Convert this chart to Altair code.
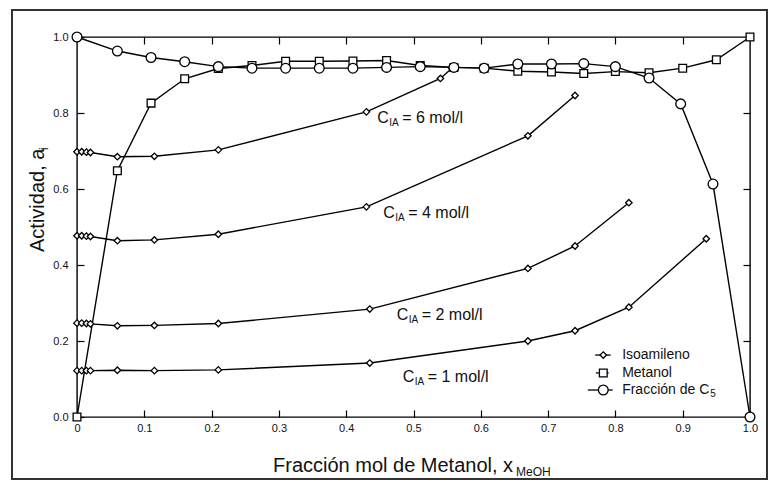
import altair as alt
import pandas as pd

# ---------------- data ----------------
# Isoamileno activity for each initial concentration C_IA (mol/l)
iso_x_6 = [0.0, 0.007, 0.014, 0.02, 0.06, 0.115, 0.21, 0.43, 0.54, 0.557]
iso_y_6 = [0.698, 0.698, 0.697, 0.696, 0.685, 0.686, 0.703, 0.803, 0.891, 0.918]
iso_x_4 = [0.0, 0.007, 0.014, 0.02, 0.06, 0.115, 0.21, 0.43, 0.67, 0.74]
iso_y_4 = [0.477, 0.477, 0.476, 0.475, 0.464, 0.466, 0.481, 0.553, 0.740, 0.846]
iso_x_2 = [0.0, 0.007, 0.014, 0.02, 0.06, 0.115, 0.21, 0.435, 0.67, 0.74, 0.82]
iso_y_2 = [0.247, 0.247, 0.246, 0.245, 0.240, 0.241, 0.246, 0.284, 0.391, 0.450, 0.564]
iso_x_1 = [0.0, 0.007, 0.014, 0.02, 0.06, 0.115, 0.21, 0.435, 0.67, 0.74, 0.82, 0.935]
iso_y_1 = [0.122, 0.122, 0.122, 0.122, 0.123, 0.122, 0.124, 0.142, 0.200, 0.227, 0.289, 0.469]

# Metanol activity
met_x = [0.0, 0.06, 0.11, 0.16, 0.21, 0.26, 0.31, 0.36, 0.41, 0.46, 0.51, 0.56,
         0.605, 0.655, 0.705, 0.753, 0.80, 0.85, 0.90, 0.95, 1.0]
met_y = [0.0, 0.648, 0.826, 0.890, 0.917, 0.925, 0.936, 0.936, 0.937, 0.938, 0.925, 0.920,
         0.918, 0.910, 0.908, 0.904, 0.909, 0.906, 0.918, 0.940, 1.0]

# Fraccion de C5
c5_x = [0.0, 0.06, 0.11, 0.16, 0.21, 0.26, 0.31, 0.36, 0.41, 0.46, 0.51, 0.56,
        0.605, 0.655, 0.705, 0.753, 0.80, 0.85, 0.897, 0.945, 1.0]
c5_y = [1.0, 0.963, 0.946, 0.935, 0.922, 0.918, 0.918, 0.918, 0.918, 0.920, 0.922, 0.920,
        0.918, 0.929, 0.929, 0.930, 0.922, 0.892, 0.824, 0.613, 0.0]

x_ticks = [0.0, 0.1, 0.2, 0.3, 0.4, 0.5, 0.6, 0.7, 0.8, 0.9, 1.0]
y_ticks = [0.0, 0.2, 0.4, 0.6, 0.8, 1.0]
inner_x_ticks = [0.1, 0.2, 0.3, 0.4, 0.5, 0.6, 0.7, 0.8, 0.9]
inner_y_ticks = [0.2, 0.4, 0.6, 0.8]

# curve labels (concentration) and their anchors in data units
conc_labels = ["6", "4", "2", "1"]
label_x = [0.446, 0.455, 0.475, 0.484]
label_y = [0.786, 0.536, 0.269, 0.104]

# legend entries
legend_names = ["Isoamileno", "Metanol", "Fracción de C"]
legend_shapes = ["diamond", "square", "circle"]
legend_y = [0.163, 0.116, 0.071]
legend_sym_x = 0.782
legend_line_from = [0.770, 0.771, 0.759]
legend_line_to = [0.793, 0.790, 0.796]
legend_text_x = 0.81

# ---------------- tables ----------------
rows = []
for c, xs, ys in [("6", iso_x_6, iso_y_6), ("4", iso_x_4, iso_y_4),
                  ("2", iso_x_2, iso_y_2), ("1", iso_x_1, iso_y_1)]:
    for xv, yv in zip(xs, ys):
        rows.append({"curve": "iso" + c, "x": xv, "y": yv})
iso_df = pd.DataFrame(rows)
met_df = pd.DataFrame({"curve": "met", "x": met_x, "y": met_y})
c5_df = pd.DataFrame({"curve": "c5", "x": c5_x, "y": c5_y})
lab_df = pd.DataFrame({"x": label_x, "y": label_y,
                       "rest": ["= " + c + " mol/l" for c in conc_labels]})
leg_df = pd.DataFrame({"name": legend_names, "shape": legend_shapes, "y": legend_y,
                       "x1": legend_line_from, "x2": legend_line_to})
leg_df["sx"] = legend_sym_x
leg_df["tx"] = legend_text_x
one = pd.DataFrame({"a": [0]})

FONT = "Liberation Sans"
XS = alt.Scale(domain=[0, 1], nice=False, zero=False)
YS = alt.Scale(domain=[0, 1], nice=False, zero=False)
SIZES = {"diamond": 42, "square": 60, "circle": 95}

ax_bottom = alt.Axis(orient="bottom", values=x_ticks, tickSize=7, offset=-7, domain=False,
                     labelPadding=5, title=None, grid=False, labelFontSize=11,
                     labelColor="#111", tickColor="black", labelFlush=False,
                     labelExpr="datum.value == 0 ? '0' : format(datum.value, '.1f')")
ax_left = alt.Axis(orient="left", values=y_ticks, tickSize=7, offset=-7, domain=False,
                   labelPadding=9, title=None, grid=False, labelFontSize=11,
                   labelColor="#111", tickColor="black", format=".1f", labelFlush=False)
ax_top = alt.Axis(orient="top", values=inner_x_ticks, tickSize=7, offset=-7, domain=False,
                  labels=False, title=None, grid=False, tickColor="black")
ax_right = alt.Axis(orient="right", values=inner_y_ticks, tickSize=7, offset=-7, domain=False,
                    labels=False, title=None, grid=False, tickColor="black")


def enc(chart, xax=None, yax=None):
    return chart.encode(
        x=alt.X("x:Q", scale=XS, axis=xax),
        y=alt.Y("y:Q", scale=YS, axis=yax),
    )

iso_line = enc(alt.Chart(iso_df).mark_line(color="black", strokeWidth=1.4),
               ax_bottom, ax_left).encode(detail="curve:N")
met_line = enc(alt.Chart(met_df).mark_line(color="black", strokeWidth=1.4), ax_top, ax_right)
c5_line = enc(alt.Chart(c5_df).mark_line(color="black", strokeWidth=1.4))

iso_pts = enc(alt.Chart(iso_df).mark_point(shape="diamond", filled=True, fill="white",
                                           stroke="black", strokeWidth=1.3,
                                           size=SIZES["diamond"], opacity=1))
met_pts = enc(alt.Chart(met_df).mark_point(shape="square", filled=True, fill="white",
                                           stroke="black", strokeWidth=1.3,
                                           size=SIZES["square"], opacity=1))
c5_pts = enc(alt.Chart(c5_df).mark_point(shape="circle", filled=True, fill="white",
                                         stroke="black", strokeWidth=1.3,
                                         size=SIZES["circle"], opacity=1))

# curve labels
lab_base = alt.Chart(lab_df).encode(x=alt.X("x:Q", scale=XS, axis=None),
                                    y=alt.Y("y:Q", scale=YS, axis=None))
lab_c = lab_base.mark_text(text="C", font=FONT, fontSize=16, align="left", baseline="middle", color="#111")
lab_sub = lab_base.mark_text(text="IA", font=FONT, fontSize=10, align="left", baseline="middle",
                             dx=12, dy=5, color="#111")
lab_rest = lab_base.mark_text(font=FONT, fontSize=16, align="left", baseline="middle",
                              dx=25, color="#111").encode(text="rest:N")

# legend
leg_rule = alt.Chart(leg_df).mark_rule(color="black", strokeWidth=1.3).encode(
    x=alt.X("x1:Q", scale=XS, axis=None), x2="x2:Q", y=alt.Y("y:Q", scale=YS, axis=None))
leg_sym = []
for shp in legend_shapes:
    leg_sym.append(
        alt.Chart(leg_df).transform_filter(alt.datum.shape == shp)
        .mark_point(shape=shp, filled=True, fill="white", stroke="black", strokeWidth=1.3,
                    size=SIZES[shp], opacity=1)
        .encode(x=alt.X("sx:Q", scale=XS, axis=None), y=alt.Y("y:Q", scale=YS, axis=None)))
leg_txt = alt.Chart(leg_df).mark_text(font=FONT, fontSize=14, align="left", baseline="middle",
                                      color="#111").encode(
    x=alt.X("tx:Q", scale=XS, axis=None), y=alt.Y("y:Q", scale=YS, axis=None), text="name:N")
leg_sub = alt.Chart(leg_df).transform_filter(alt.datum.shape == "circle").mark_text(
    text="5", font=FONT, fontSize=10, align="left", baseline="middle", dx=88, dy=4,
    color="#111").encode(x=alt.X("tx:Q", scale=XS, axis=None), y=alt.Y("y:Q", scale=YS, axis=None))

# axis titles (with subscripts)
xt = alt.Chart(one).mark_text(text="Fracción mol de Metanol, x", font=FONT, fontSize=20,
                              align="left", baseline="middle", color="#111").encode(
    x=alt.value(196), y=alt.value(429))
xt_sub = alt.Chart(one).mark_text(text="MeOH", font=FONT, fontSize=12, align="left",
                                  baseline="middle", color="#111").encode(
    x=alt.value(439), y=alt.value(435))
yt = alt.Chart(one).mark_text(text="Actividad, a", font=FONT, fontSize=20, angle=270,
                              align="left", baseline="middle", color="#111").encode(
    x=alt.value(-39), y=alt.value(215))
yt_sub = alt.Chart(one).mark_text(text="i", font=FONT, fontSize=12, angle=270,
                                  align="left", baseline="middle", color="#111").encode(
    x=alt.value(-33), y=alt.value(113))

# scanned page frame
frame = alt.Chart(one).mark_rect(filled=False, stroke="#333", strokeWidth=2).encode(
    x=alt.value(-65), x2=alt.value(690), y=alt.value(-27), y2=alt.value(442))

chart = alt.layer(
    frame, iso_line, met_line, c5_line, iso_pts, met_pts, c5_pts,
    lab_c, lab_sub, lab_rest, leg_rule, *leg_sym, leg_txt, leg_sub,
    xt, xt_sub, yt, yt_sub,
).resolve_axis(x="independent", y="independent").properties(
    width=673, height=380,
    autosize=alt.AutoSizeParams(type="none"),
    padding={"left": 77, "top": 37, "right": 25, "bottom": 70},
    background="white",
).configure_view(stroke="black", strokeWidth=1.4).configure_axis(
    labelFont=FONT, tickWidth=1.2)

chart.save("out.html", embed_options={"renderer": "svg", "actions": False})
